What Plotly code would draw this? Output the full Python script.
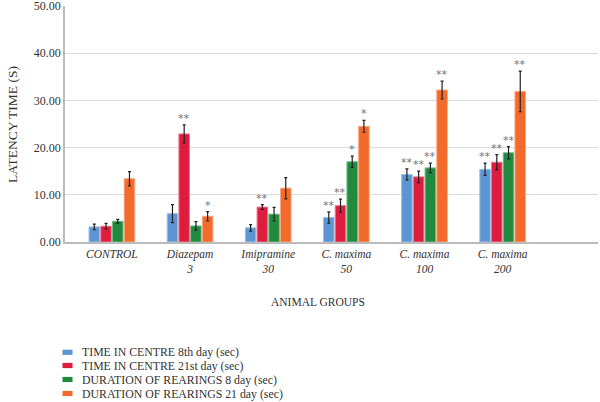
import plotly.graph_objects as go

groups = ["CONTROL", "Diazepam<br>3", "Imipramine<br>30", "C. maxima<br>50", "C. maxima<br>100", "C. maxima<br>200"]
series_names = [
    "TIME IN CENTRE 8th day (sec)",
    "TIME IN CENTRE 21st day (sec)",
    "DURATION OF REARINGS 8 day (sec)",
    "DURATION OF REARINGS 21 day (sec)",
]
centre8 = [3.2, 6.0, 3.0, 5.2, 14.3, 15.4]
centre8_err = [0.6, 1.9, 0.7, 1.2, 1.2, 1.3]
centre21 = [3.35, 22.9, 7.4, 7.7, 13.8, 16.9]
centre21_err = [0.6, 1.9, 0.5, 1.4, 1.2, 1.6]
rear8 = [4.4, 3.4, 5.9, 17.0, 15.7, 18.9]
rear8_err = [0.4, 0.9, 1.45, 1.2, 1.0, 1.3]
rear21 = [13.4, 5.45, 11.4, 24.5, 32.2, 31.9]
rear21_err = [1.5, 1.0, 2.25, 1.25, 1.9, 4.3]
stars = [
    ["", "", "", "**", "**", "**"],
    ["", "**", "**", "**", "**", "**"],
    ["", "", "", "*", "**", "**"],
    ["", "*", "", "*", "**", "**"],
]
yticks = [0, 10, 20, 30, 40, 50]

values = [centre8, centre21, rear8, rear21]
errors = [centre8_err, centre21_err, rear8_err, rear21_err]
colors = ["#5B96D3", "#DE1D3E", "#228A3E", "#F26A2C"]
edges = ["#9CC1E8", "#F07A8C", "#6FBF84", "#F8A67F"]

pitch = 0.15
width = 0.135
xs = list(range(len(groups)))

# plot-area geometry in pixels (for placing the hand-drawn legend)
L, R, T, B = 65, 598, 6, 242
PW, PH = R - L, B - T


def px_x(px):
    return (px - L) / PW


def px_y(py):
    return (B - py) / PH


fig = go.Figure()
annotations = []
shapes = []
for i in range(4):
    off = (i - 1.5) * pitch
    fig.add_trace(go.Bar(
        x=xs, y=values[i], name=series_names[i],
        width=width, offset=off - width / 2,
        marker=dict(color=colors[i], line=dict(color=edges[i], width=1)),
        error_y=dict(type="data", array=errors[i], color="#222222", thickness=1.2, width=1.5),
        showlegend=False,
    ))
    for j, s in enumerate(stars[i]):
        if s:
            annotations.append(dict(
                x=xs[j] + off, y=values[i][j] + errors[i][j], text=s,
                showarrow=False, yanchor="bottom", yshift=-2,
                font=dict(family="DejaVu Sans", size=11, color="#747474"),
            ))

# legend drawn by hand (compact row spacing like the reference)
legend_rows = [352.3, 365.5, 379.5, 393.5]
for i, name in enumerate(series_names):
    cy = legend_rows[i]
    shapes.append(dict(
        type="rect", xref="paper", yref="paper",
        x0=px_x(62.5), x1=px_x(72.5), y0=px_y(cy + 2.6), y1=px_y(cy - 2.6),
        fillcolor=colors[i], line=dict(width=0),
    ))
    annotations.append(dict(
        x=px_x(80), y=px_y(cy), xref="paper", yref="paper", text=name,
        showarrow=False, xanchor="left", yanchor="middle",
        font=dict(family="Liberation Serif", size=11.8, color="#333333"),
    ))

annotations.append(dict(
    x=px_x(318), y=px_y(302), xref="paper", yref="paper", text="ANIMAL GROUPS",
    showarrow=False, font=dict(family="Liberation Serif", size=11.5, color="#333333"),
    yanchor="middle",
))
annotations.append(dict(
    x=px_x(12), y=px_y(125), xref="paper", yref="paper", text="LATENCY TIME (S)",
    showarrow=False, textangle=-90,
    font=dict(family="Liberation Serif", size=13.5, color="#333333"),
    xanchor="center", yanchor="middle",
))

fig.update_layout(
    width=600, height=402,
    margin=dict(l=L, r=600 - R, t=T, b=402 - B, autoexpand=False),
    plot_bgcolor="white", paper_bgcolor="white",
    showlegend=False,
    annotations=annotations,
    shapes=shapes,
    xaxis=dict(
        range=[-0.6, 6.22], tickvals=xs,
        ticktext=["<i>" + g.replace("<br>", "</i><br><i>") + "</i>" for g in groups],
        showline=True, linecolor="#BBBBBB", linewidth=1.5, ticks="",
        tickfont=dict(family="Liberation Serif", size=11.5, color="#333333"),
        showgrid=False, zeroline=False, automargin=False,
    ),
    yaxis=dict(
        range=[0, 50], tickvals=yticks, ticktext=[f"{v:.2f}" for v in yticks],
        showline=True, linecolor="#BBBBBB", linewidth=1.5, ticks="",
        gridcolor="#DDDDDD", gridwidth=1.2, zeroline=False, automargin=False,
        ticklabeloverflow="allow",
        tickfont=dict(family="Liberation Serif", size=12, color="#333333"),
    ),
)

fig.write_html(
    "out.html",
    config={"displayModeBar": False},
    post_script="document.body.style.margin='0';document.body.style.overflow='hidden';",
)
